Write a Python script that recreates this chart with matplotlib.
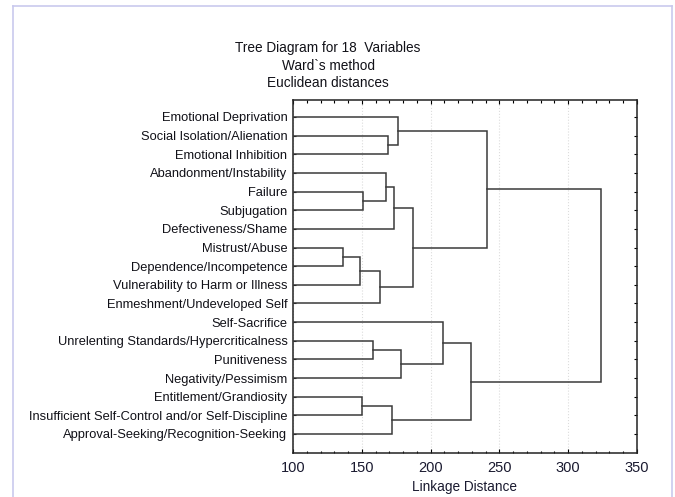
import matplotlib
matplotlib.use("Agg")
import matplotlib.pyplot as plt
from matplotlib.ticker import MultipleLocator
from matplotlib.patches import Rectangle
from matplotlib.lines import Line2D

plt.rcParams['font.family'] = ['Liberation Sans', 'DejaVu Sans']

labels = [
    "Emotional Deprivation",
    "Social Isolation/Alienation",
    "Emotional Inhibition",
    "Abandonment/Instability",
    "Failure",
    "Subjugation",
    "Defectiveness/Shame",
    "Mistrust/Abuse",
    "Dependence/Incompetence",
    "Vulnerability to Harm or Illness",
    "Enmeshment/Undeveloped Self",
    "Self-Sacrifice",
    "Unrelenting Standards/Hypercriticalness",
    "Punitiveness",
    "Negativity/Pessimism",
    "Entitlement/Grandiosity",
    "Insufficient Self-Control and/or Self-Discipline",
    "Approval-Seeking/Recognition-Seeking",
]

# merges: (child_a, child_b, linkage distance); new cluster ids start at 18
merge_a = [7, 18, 4, 15, 12, 19, 3, 1, 21, 24, 0, 22, 27, 11, 31, 28, 33]
merge_b = [8, 9, 5, 16, 13, 10, 20, 2, 17, 6, 25, 14, 23, 29, 26, 30, 32]
merge_h = [136.6, 148.7, 150.6, 150.0, 157.9, 163.2, 167.6, 169.3, 171.7,
           173.6, 176.6, 178.5, 187.0, 208.8, 229.1, 241.2, 323.6]

xmin, xmax = 100, 350

fig = plt.figure(figsize=(6.75, 4.97), dpi=100)
ax = fig.add_axes([293/675, 44/497, 344/675, 353/497])

n = len(labels)
pos = {i: i + 1 for i in range(n)}
hgt = {i: xmin for i in range(n)}
line_col = '#3a3a3a'
for k, (a, b, h) in enumerate(zip(merge_a, merge_b, merge_h)):
    ya, yb = pos[a], pos[b]
    ax.plot([hgt[a], h, h, hgt[b]], [ya, ya, yb, yb], color=line_col,
            lw=1.1, solid_joinstyle='miter', zorder=3)
    cid = n + k
    pos[cid] = (ya + yb) / 2
    hgt[cid] = h

txtcol = '#111118'
ax.set_xlim(xmin, xmax)
ax.set_ylim(19.02, 0.09)
ax.set_yticks(range(1, n + 1))
ax.set_yticklabels(labels, fontsize=9.3, color=txtcol)
ax.xaxis.set_major_locator(MultipleLocator(50))
ax.xaxis.set_minor_locator(MultipleLocator(10))
ax.tick_params(axis='x', which='major', direction='in', length=3, width=0.8,
               top=True, bottom=True, labelsize=10.5, labelcolor='#1a1a30', pad=6)
ax.tick_params(axis='x', which='minor', direction='in', length=1.8, width=0.8,
               top=True, bottom=True)
ax.tick_params(axis='y', which='major', direction='in', length=2.5, width=0.8,
               left=True, right=True, pad=4)
for s in ax.spines.values():
    s.set_linewidth(1.1)
    s.set_color('#222222')
ax.grid(axis='x', which='major', color='#dcdcdc', linestyle=':', lw=0.8, zorder=0)

ax.set_xlabel("Linkage Distance", fontsize=9.8, color='#1a1a30', labelpad=3)

tx = 328 / 675
fig.text(tx, 1 - 48/497, "Tree Diagram for 18  Variables", ha='center', va='center', fontsize=9.8, color=txtcol)
fig.text(tx, 1 - 66/497, "Ward`s method", ha='center', va='center', fontsize=9.8, color=txtcol)
fig.text(tx, 1 - 83/497, "Euclidean distances", ha='center', va='center', fontsize=9.8, color=txtcol)

# page frame
fig.patches.append(Rectangle((0, 0), 13/675, 1, transform=fig.transFigure,
                             facecolor='white', edgecolor='none', zorder=10))
border = '#c9c9ee'
fig.lines.append(Line2D([13/675, 13/675], [0, 1 - 6/497], transform=fig.transFigure, color=border, lw=1.2, zorder=11))
fig.lines.append(Line2D([672/675, 672/675], [0, 1 - 6/497], transform=fig.transFigure, color=border, lw=1.2, zorder=11))
fig.lines.append(Line2D([13/675, 672/675], [1 - 6/497, 1 - 6/497], transform=fig.transFigure, color=border, lw=1.2, zorder=11))

fig.savefig("out.png", dpi=100)
